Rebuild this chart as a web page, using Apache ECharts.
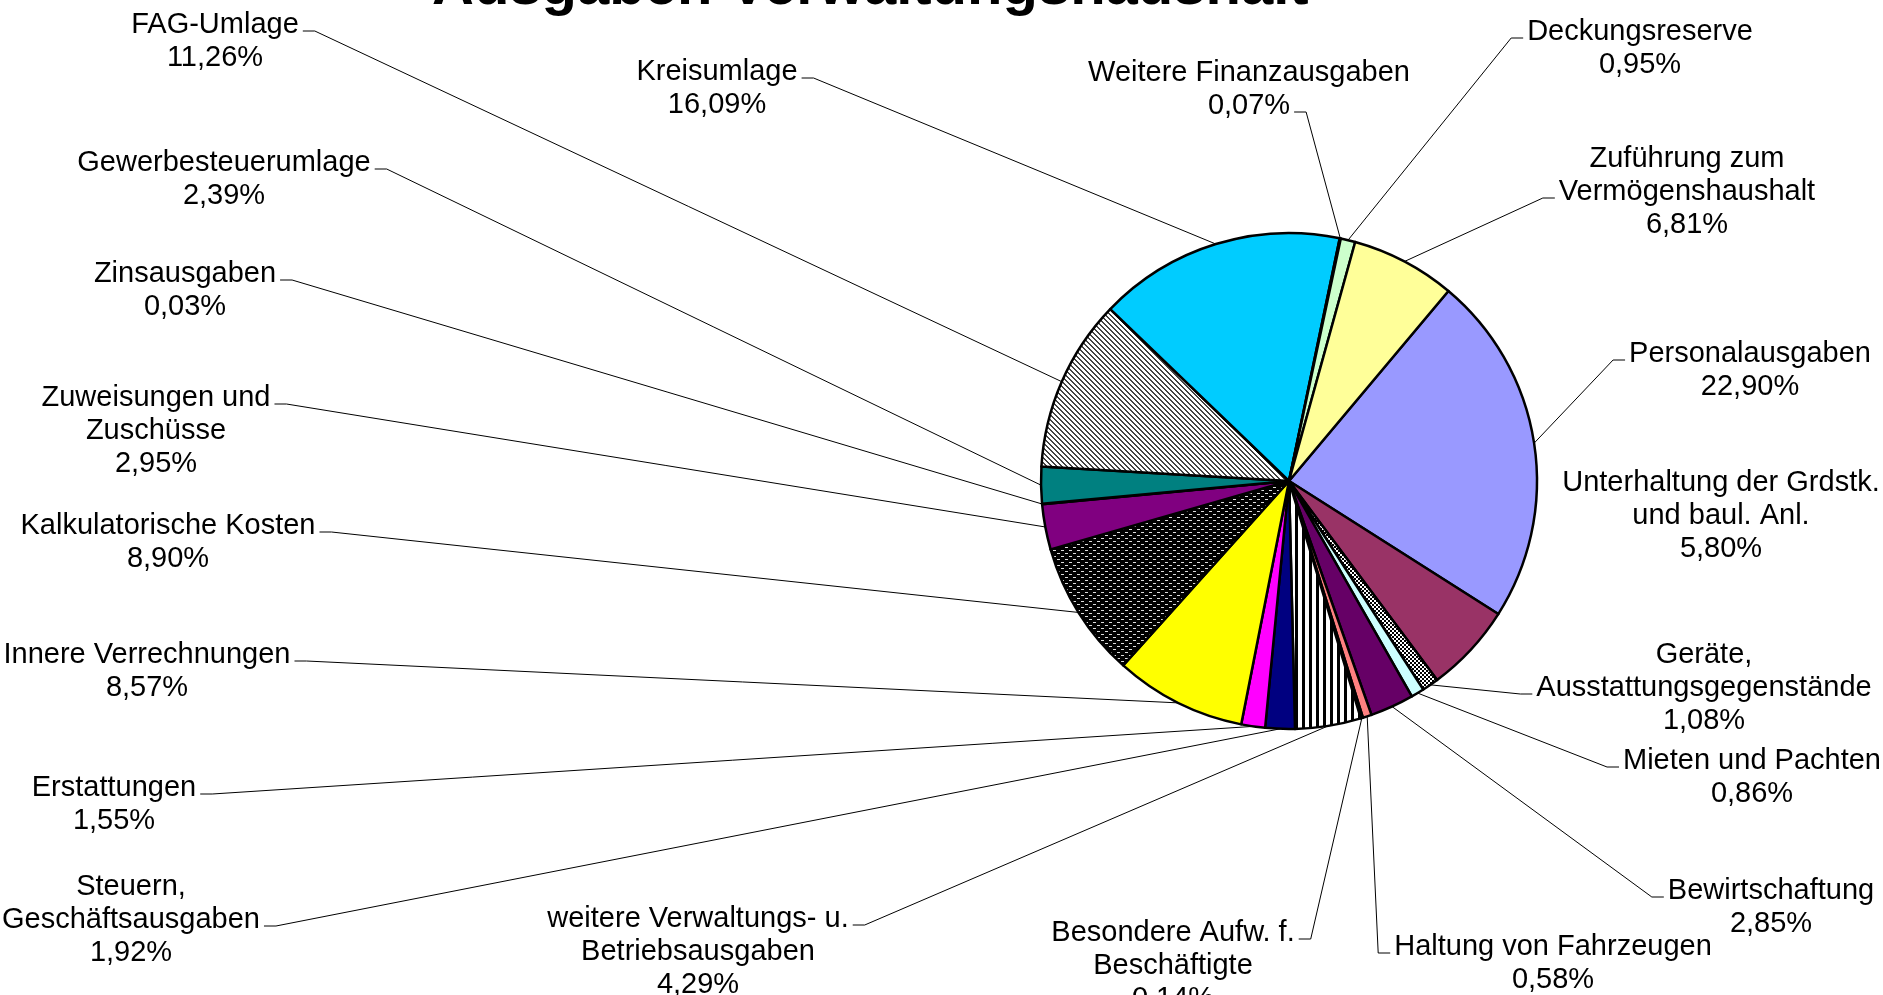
<!DOCTYPE html>
<html>
<head>
<meta charset="utf-8">
<title>Ausgaben Verwaltungshaushalt</title>
<script src="https://cdn.jsdelivr.net/npm/echarts@6/dist/echarts.min.js"></script>
<style>
  html, body { margin: 0; padding: 0; background: #fff; }
  #chart { width: 1883px; height: 995px; }
</style>
</head>
<body>
<div id="chart"></div>
<script>
// slices in drawing order (clockwise, starting with Personalausgaben)
const names = [
    'Personalausgaben',
    'Unterhaltung der Grdstk.\nund baul. Anl.',
    'Geräte,\nAusstattungsgegenstände',
    'Mieten und Pachten',
    'Bewirtschaftung',
    'Haltung von Fahrzeugen',
    'Besondere Aufw. f.\nBeschäftigte',
    'weitere Verwaltungs- u.\nBetriebsausgaben',
    'Steuern,\nGeschäftsausgaben',
    'Erstattungen',
    'Innere Verrechnungen',
    'Kalkulatorische Kosten',
    'Zuweisungen und\nZuschüsse',
    'Zinsausgaben',
    'Gewerbesteuerumlage',
    'FAG-Umlage',
    'Kreisumlage',
    'Weitere Finanzausgaben',
    'Deckungsreserve',
    'Zuführung zum\nVermögenshaushalt'
];
const shares = [22.90, 5.80, 1.08, 0.86, 2.85, 0.58, 0.14, 4.29, 1.92, 1.55,
                8.57, 8.90, 2.95, 0.03, 2.39, 11.26, 16.09, 0.07, 0.95, 6.81];
const fills = ['#9999FF', '#993366', 'checker', '#CCFFFF', '#660066', '#FF8080', '#0066CC',
               'vstripes', '#000080', '#FF00FF', '#FFFF00', 'dots', '#800080', '#800000',
               '#008080', 'diagonal', '#00CCFF', '#CCFFFF', '#CCFFCC', '#FFFF99'];

// where each label sits: block centre x, centre y of first line,
// which line the leader attaches to, and on which side
const labelSpots = [
    {x: 1750, y: 351, line: 0, side: 'left'},
    {x: 1721, y: 480, line: 0, side: null},
    {x: 1704, y: 652, line: 1, side: 'left'},
    {x: 1752, y: 758, line: 0, side: 'left'},
    {x: 1771, y: 888, line: 0, side: 'left'},
    {x: 1553, y: 944, line: 0, side: 'left'},
    {x: 1173, y: 930, line: 0, side: 'right'},
    {x: 698, y: 916, line: 0, side: 'right'},
    {x: 131, y: 884, line: 1, side: 'right'},
    {x: 114, y: 785, line: 0, side: 'right'},
    {x: 147, y: 652, line: 0, side: 'right'},
    {x: 168, y: 523, line: 0, side: 'right'},
    {x: 156, y: 395, line: 0, side: 'right'},
    {x: 185, y: 271, line: 0, side: 'right'},
    {x: 224, y: 160, line: 0, side: 'right'},
    {x: 215, y: 22, line: 0, side: 'right'},
    {x: 717, y: 69, line: 0, side: 'right'},
    {x: 1249, y: 70, line: 1, side: 'right'},
    {x: 1640, y: 29, line: 0, side: 'left'},
    {x: 1687, y: 156, line: 1, side: 'left'}
];

const LABEL_FONT = '29px "Liberation Sans", Arial, sans-serif';
const LINE_H = 33;
const TEXT_SHIFT = 3; // glyphs sit a little lower than the line box centre

function pct(v) {
    return v.toFixed(2).replace('.', ',') + '%';
}

let measureCtx = document.createElement('canvas').getContext('2d');
measureCtx.font = LABEL_FONT;
function textWidth(s) {
    return measureCtx.measureText(s).width;
}

function makePattern(kind) {
    let c = document.createElement('canvas');
    let g = c.getContext('2d');
    if (kind === 'checker') {
        c.width = 4; c.height = 4;
        g.fillStyle = '#fff'; g.fillRect(0, 0, 4, 4);
        g.fillStyle = '#000';
        g.fillRect(0, 0, 2, 2); g.fillRect(2, 2, 2, 2);
    } else if (kind === 'vstripes') {
        c.width = 7; c.height = 2;
        g.fillStyle = '#fff'; g.fillRect(0, 0, 7, 2);
        g.fillStyle = '#000'; g.fillRect(0, 0, 3, 2);
    } else if (kind === 'dots') {
        c.width = 8; c.height = 6;
        g.fillStyle = '#000'; g.fillRect(0, 0, 8, 6);
        g.fillStyle = '#ddd';
        g.fillRect(1, 1, 3, 1); g.fillRect(5, 4, 3, 1);
    } else if (kind === 'diagonal') {
        c.width = 5; c.height = 5;
        g.fillStyle = '#fff'; g.fillRect(0, 0, 5, 5);
        g.fillStyle = '#444';
        for (let y = 0; y < 5; y++) {
            for (let x = 0; x < 5; x++) {
                if (((x - y) % 5 + 5) % 5 < 2) g.fillRect(x, y, 1, 1);
            }
        }
    }
    return {image: c, repeat: 'repeat'};
}

let seriesData = names.map((n, i) => {
    let fill = fills[i].charAt(0) === '#' ? fills[i] : makePattern(fills[i]);
    let item = {name: n, value: shares[i], itemStyle: {color: fill}};
    if (!labelSpots[i].side) item.labelLine = {show: false};
    return item;
});

let chart = echarts.init(document.getElementById('chart'));

let option = {
    backgroundColor: '#fff',
    animation: false,
    title: {
        text: 'Ausgaben Verwaltungshaushalt',
        left: 432,
        top: -41,
        padding: 0,
        textStyle: {
            fontFamily: '"Liberation Sans", Arial, sans-serif',
            fontWeight: 'bold',
            fontSize: 58,
            color: '#000'
        }
    },
    series: [
        {
            type: 'pie',
            center: [1289, 481],
            radius: 248,
            startAngle: 50,
            clockwise: true,
            avoidLabelOverlap: false,
            silent: true,
            itemStyle: {
                borderColor: '#000',
                borderWidth: 2.5
            },
            label: {
                show: true,
                position: 'outside',
                color: '#000',
                fontSize: 29,
                fontFamily: '"Liberation Sans", Arial, sans-serif',
                lineHeight: LINE_H,
                align: 'center',
                formatter: p => p.name + '\n' + pct(p.value)
            },
            labelLine: {
                show: true,
                smooth: false,
                lineStyle: {color: '#000', width: 1}
            },
            labelLayout: function (params) {
                let i = params.dataIndex;
                let spot = labelSpots[i];
                let lines = names[i].split('\n').concat([pct(shares[i])]);
                let w = textWidth(lines[spot.line]);
                let ay = spot.y + spot.line * LINE_H + 9;
                let pts = params.labelLinePoints;
                if (pts && spot.side) {
                    let ex = spot.side === 'right' ? spot.x + w / 2 + 4 : spot.x - w / 2 - 4;
                    let kx = spot.side === 'right' ? ex + 12 : ex - 12;
                    pts = [pts[0], [kx, ay], [ex, ay]];
                }
                return {
                    x: spot.x,
                    y: spot.y - LINE_H / 2 + TEXT_SHIFT,
                    align: 'center',
                    verticalAlign: 'top',
                    labelLinePoints: pts
                };
            },
            data: seriesData
        }
    ]
};

chart.setOption(option);
</script>
</body>
</html>
